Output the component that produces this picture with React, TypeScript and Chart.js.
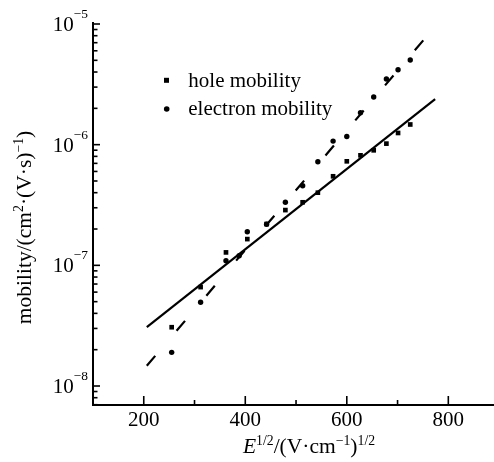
import { useEffect, useRef } from "react";
import { Chart, registerables } from "chart.js";

Chart.register(...registerables);

// ---- data ----
const fieldHole = [255, 312, 362, 404, 442, 479, 513, 543, 573, 600, 627, 653, 678, 701, 725];
const holeMobility = [3.07e-8, 6.6e-8, 1.28e-7, 1.65e-7, 2.2e-7, 2.87e-7, 3.33e-7, 4.0e-7, 5.47e-7, 7.28e-7, 8.16e-7, 8.98e-7, 1.02e-6, 1.25e-6, 1.47e-6];
const fieldElectron = [255, 312, 362, 388, 404, 442, 479, 513, 543, 573, 600, 627, 653, 678, 701, 725];
const electronMobility = [1.9e-8, 4.94e-8, 1.09e-7, 1.2e-7, 1.9e-7, 2.19e-7, 3.33e-7, 4.57e-7, 7.22e-7, 1.07e-6, 1.17e-6, 1.84e-6, 2.48e-6, 3.5e-6, 4.18e-6, 5.03e-6];
const holeFitX = [206, 774];
const holeFitY = [3.08e-8, 2.38e-6];
const electronFitX = [206, 758];
const electronFitY = [1.47e-8, 7.96e-6];

const xMin = 100;
const xMax = 890;
const yMin = 6.96e-9;
const yMax = 1e-5;
const xMajorTicks = [200, 400, 600, 800];
const xMinorTicks = [300, 500, 700];
const yDecadeExponents = [-8, -7, -6, -5];
const legendLabels = ["hole mobility", "electron mobility"];

const FONT = '"Liberation Serif", "Times New Roman", Times, serif';

type Seg = { t: string; sup?: boolean; it?: boolean };

function segFont(s: Seg, size: number, supScale: number) {
  const sz = s.sup ? size * supScale : size;
  return `${s.it ? "italic " : ""}${sz}px ${FONT}`;
}

function drawRich(
  ctx: CanvasRenderingContext2D,
  segs: Seg[],
  x: number,
  y: number,
  size: number,
  align: "left" | "center" | "right",
  raise: number,
  supScale = 0.64
) {
  let w = 0;
  for (const s of segs) {
    ctx.font = segFont(s, size, supScale);
    w += ctx.measureText(s.t).width;
  }
  let cx = align === "left" ? x : align === "center" ? x - w / 2 : x - w;
  ctx.textAlign = "left";
  ctx.textBaseline = "alphabetic";
  for (const s of segs) {
    ctx.font = segFont(s, size, supScale);
    ctx.fillText(s.t, cx, s.sup ? y - size * raise : y);
    cx += ctx.measureText(s.t).width;
  }
}

const xTitle: Seg[] = [
  { t: "E", it: true },
  { t: "1/2", sup: true },
  { t: "/(V·cm" },
  { t: "−1", sup: true },
  { t: ")" },
  { t: "1/2", sup: true },
];
const yTitle: Seg[] = [
  { t: "mobility/(cm" },
  { t: "2", sup: true },
  { t: "·(V·s)" },
  { t: "−1", sup: true },
  { t: ")" },
];

const decorPlugin = {
  id: "decor",
  afterDatasetsDraw(chart: any) {
    const ctx: CanvasRenderingContext2D = chart.ctx;
    const xs = chart.scales.x;
    const ys = chart.scales.y;
    const { left, top, bottom } = chart.chartArea;
    const right = chart.width;
    ctx.save();
    ctx.strokeStyle = "#000";
    ctx.fillStyle = "#000";
    // axis lines
    ctx.lineWidth = 2;
    ctx.beginPath();
    ctx.moveTo(left, top - 2);
    ctx.lineTo(left, bottom);
    ctx.lineTo(right, bottom);
    ctx.stroke();
    // y ticks
    ctx.lineWidth = 1.6;
    for (const e of yDecadeExponents) {
      const base = Math.pow(10, e);
      for (let m = 1; m <= 9; m++) {
        const v = base * m;
        if (v < yMin * 0.999 || v > yMax * 1.001) continue;
        const py = ys.getPixelForValue(v);
        const len = m === 1 ? 7 : 4.5;
        ctx.beginPath();
        ctx.moveTo(left, py);
        ctx.lineTo(left + len, py);
        ctx.stroke();
      }
    }
    // minor ticks below the lowest decade
    for (let m = 9; m >= 1; m--) {
      const v = Math.pow(10, yDecadeExponents[0] - 1) * m;
      if (v < yMin * 0.999) continue;
      const py = ys.getPixelForValue(v);
      ctx.beginPath();
      ctx.moveTo(left, py);
      ctx.lineTo(left + 4.5, py);
      ctx.stroke();
    }
    // x ticks
    for (const v of xMajorTicks) {
      const px = xs.getPixelForValue(v);
      ctx.beginPath();
      ctx.moveTo(px, bottom);
      ctx.lineTo(px, bottom - 9);
      ctx.stroke();
    }
    for (const v of xMinorTicks) {
      const px = xs.getPixelForValue(v);
      ctx.beginPath();
      ctx.moveTo(px, bottom);
      ctx.lineTo(px, bottom - 5);
      ctx.stroke();
    }
    // x tick labels
    ctx.font = `21px ${FONT}`;
    ctx.textAlign = "center";
    ctx.textBaseline = "alphabetic";
    for (const v of xMajorTicks) {
      ctx.fillText(String(v), xs.getPixelForValue(v), bottom + 21);
    }
    // y tick labels
    for (const e of yDecadeExponents) {
      const py = ys.getPixelForValue(Math.pow(10, e));
      drawRich(
        ctx,
        [{ t: "10" }, { t: "−" + String(-e), sup: true }],
        88,
        py + 7,
        21,
        "right",
        0.62
      );
    }
    // x title
    drawRich(ctx, xTitle, 309, 452.5, 21.5, "center", 0.36, 0.64);
    // y title
    ctx.save();
    ctx.translate(31, 227.5);
    ctx.rotate(-Math.PI / 2);
    drawRich(ctx, yTitle, 0, 0, 21.5, "center", 0.36, 0.64);
    ctx.restore();
    // legend
    ctx.fillRect(164, 77.8, 5, 5);
    ctx.beginPath();
    ctx.arc(166.7, 109, 2.8, 0, Math.PI * 2);
    ctx.fill();
    ctx.font = `21px ${FONT}`;
    ctx.textAlign = "left";
    ctx.textBaseline = "alphabetic";
    ctx.fillText(legendLabels[0], 188.3, 86.7);
    ctx.fillText(legendLabels[1], 188.3, 115);
    ctx.restore();
  },
};

export default function App() {
  const ref = useRef<HTMLCanvasElement | null>(null);
  useEffect(() => {
    const canvas = ref.current;
    if (!canvas) return;
    const chart = new Chart(canvas, {
      type: "scatter",
      data: {
        datasets: [
          {
            label: legendLabels[0],
            data: fieldHole.map((x, i) => ({ x, y: holeMobility[i] })),
            pointStyle: "rect",
            pointRadius: 3.3,
            backgroundColor: "#000",
            borderColor: "#000",
            borderWidth: 0,
            showLine: false,
          },
          {
            label: legendLabels[1],
            data: fieldElectron.map((x, i) => ({ x, y: electronMobility[i] })),
            pointStyle: "circle",
            pointRadius: 2.7,
            backgroundColor: "#000",
            borderColor: "#000",
            borderWidth: 0,
            showLine: false,
          },
          {
            type: "line",
            label: "hole fit",
            data: holeFitX.map((x, i) => ({ x, y: holeFitY[i] })),
            borderColor: "#000",
            borderWidth: 2.2,
            pointRadius: 0,
            showLine: true,
            fill: false,
          },
          {
            type: "line",
            label: "electron fit",
            data: electronFitX.map((x, i) => ({ x, y: electronFitY[i] })),
            borderColor: "#000",
            borderWidth: 2.2,
            borderDash: [13, 33],
            pointRadius: 0,
            showLine: true,
            fill: false,
          },
        ] as any,
      },
      options: {
        animation: false,
        responsive: false,
        layout: { autoPadding: false, padding: { left: 93, right: 0, top: 24, bottom: 57 } },
        plugins: { legend: { display: false }, tooltip: { enabled: false } },
        scales: {
          x: { type: "linear", min: xMin, max: xMax, display: false },
          y: { type: "logarithmic", min: yMin, max: yMax, display: false },
        },
      } as any,
      plugins: [decorPlugin],
    });
    return () => chart.destroy();
  }, []);
  return (
    <div style={{ position: "fixed", left: 0, top: 0, width: 494, height: 462, background: "#fff" }}>
      <canvas ref={ref} width={494} height={462} style={{ display: "block" }} />
    </div>
  );
}
